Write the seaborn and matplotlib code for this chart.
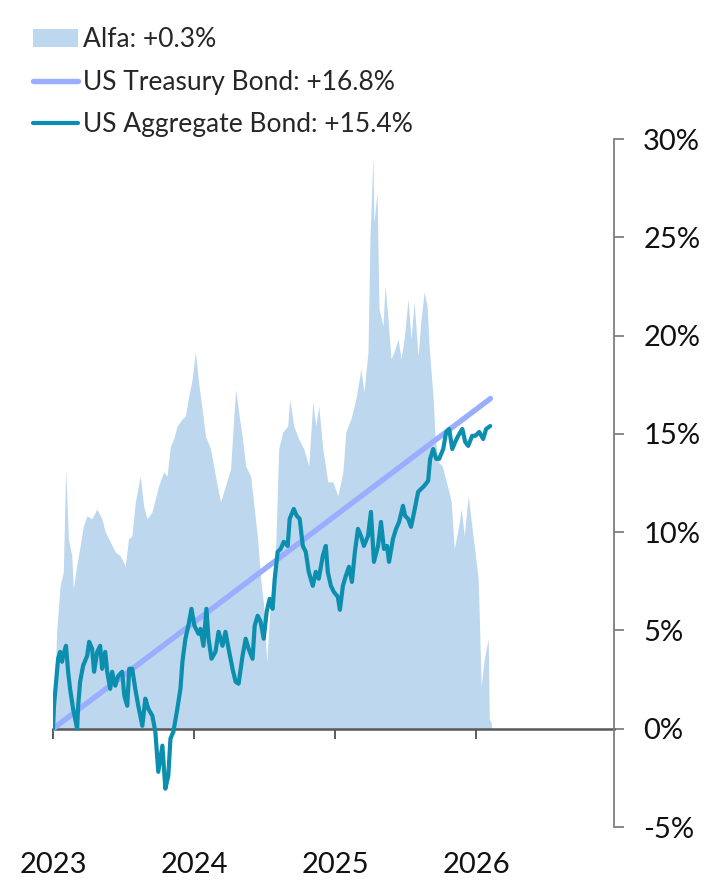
import matplotlib
matplotlib.use("Agg")
import matplotlib.pyplot as plt
import seaborn as sns
import pandas as pd
from matplotlib.patches import Patch
from matplotlib.lines import Line2D

# Alfa (area), cumulative return in %, x in decimal years
alfa_year = [2023.000, 2023.026, 2023.050, 2023.073, 2023.090, 2023.109, 2023.133, 2023.144, 2023.168,
             2023.192, 2023.215, 2023.240, 2023.275, 2023.311, 2023.346, 2023.370, 2023.405, 2023.441,
             2023.476, 2023.512, 2023.535, 2023.559, 2023.583, 2023.618, 2023.642, 2023.666, 2023.701,
             2023.725, 2023.748, 2023.784, 2023.808, 2023.832, 2023.855, 2023.879, 2023.915, 2023.938,
             2023.962, 2023.986, 2024.009, 2024.033, 2024.059, 2024.080, 2024.116, 2024.151, 2024.187,
             2024.222, 2024.258, 2024.294, 2024.315, 2024.343, 2024.365, 2024.400, 2024.421, 2024.450,
             2024.471, 2024.493, 2024.514, 2024.542, 2024.578, 2024.599, 2024.628, 2024.663, 2024.677,
             2024.706, 2024.741, 2024.777, 2024.812, 2024.841, 2024.862, 2024.883, 2024.912, 2024.947,
             2024.983, 2025.018, 2025.054, 2025.075, 2025.111, 2025.146, 2025.182, 2025.203, 2025.232,
             2025.246, 2025.267, 2025.274, 2025.296, 2025.310, 2025.338, 2025.353, 2025.374, 2025.395,
             2025.416, 2025.445, 2025.466, 2025.488, 2025.516, 2025.537, 2025.559, 2025.587, 2025.608,
             2025.630, 2025.651, 2025.665, 2025.694, 2025.708, 2025.729, 2025.758, 2025.800, 2025.822,
             2025.843, 2025.871, 2025.893, 2025.914, 2025.942, 2025.964, 2025.985, 2026.013, 2026.034,
             2026.056, 2026.084, 2026.091, 2026.106]
alfa_pct = [0.0, 4.93, 7.27, 7.98, 13.22, 9.66, 8.80, 7.12, 8.29,
            9.30, 10.32, 10.83, 10.68, 11.18, 10.68, 10.02, 9.51, 9.00,
            8.80, 8.29, 9.66, 9.81, 11.54, 12.86, 11.34, 10.68, 11.03,
            11.69, 12.35, 13.07, 12.86, 14.39, 14.74, 15.40, 15.76, 15.91,
            16.93, 17.79, 19.17, 17.54, 16.12, 14.90, 14.23, 12.86, 11.54,
            12.35, 13.22, 17.29, 16.12, 14.74, 13.37, 12.86, 11.54, 9.66,
            7.63, 6.25, 3.41, 6.61, 9.30, 14.23, 15.10, 15.40, 16.78,
            15.40, 14.74, 14.23, 13.37, 16.62, 15.40, 16.42, 14.23, 12.56,
            12.56, 11.85, 13.07, 15.10, 15.76, 16.78, 18.30, 17.13, 19.17,
            25.06, 29.13, 25.77, 27.30, 21.36, 20.49, 22.53, 20.84, 18.81,
            19.17, 19.83, 18.81, 19.83, 21.86, 19.83, 21.71, 18.96, 20.84,
            22.22, 21.50, 19.47, 16.78, 14.74, 13.57, 13.37, 12.20, 11.54,
            9.15, 10.17, 11.18, 9.81, 11.85, 10.52, 9.30, 7.63, 2.19,
            3.56, 4.58, 0.51, 0.30]

# US Treasury Bond (straight line)
tsy_year = [2023.000, 2026.100]
tsy_pct = [0.0, 16.8]

# US Aggregate Bond
agg_year = [2023.000, 2023.007, 2023.028, 2023.036, 2023.050, 2023.064, 2023.071, 2023.092, 2023.107,
            2023.121, 2023.142, 2023.171, 2023.178, 2023.192, 2023.213, 2023.242, 2023.256, 2023.277,
            2023.291, 2023.313, 2023.334, 2023.348, 2023.370, 2023.384, 2023.405, 2023.419, 2023.441,
            2023.462, 2023.490, 2023.505, 2023.526, 2023.540, 2023.561, 2023.583, 2023.604, 2023.633,
            2023.654, 2023.675, 2023.704, 2023.725, 2023.746, 2023.775, 2023.796, 2023.817, 2023.832,
            2023.853, 2023.881, 2023.903, 2023.917, 2023.938, 2023.959, 2023.981, 2024.002, 2024.031,
            2024.045, 2024.066, 2024.087, 2024.102, 2024.123, 2024.151, 2024.173, 2024.201, 2024.222,
            2024.244, 2024.272, 2024.294, 2024.315, 2024.343, 2024.365, 2024.386, 2024.414, 2024.429,
            2024.450, 2024.471, 2024.493, 2024.514, 2024.535, 2024.556, 2024.571, 2024.592, 2024.613,
            2024.635, 2024.663, 2024.677, 2024.706, 2024.727, 2024.748, 2024.770, 2024.791, 2024.812,
            2024.841, 2024.862, 2024.883, 2024.912, 2024.933, 2024.947, 2024.969, 2024.990, 2025.018,
            2025.033, 2025.054, 2025.075, 2025.097, 2025.118, 2025.139, 2025.161, 2025.182, 2025.203,
            2025.232, 2025.253, 2025.274, 2025.303, 2025.324, 2025.345, 2025.367, 2025.381, 2025.409,
            2025.431, 2025.452, 2025.480, 2025.495, 2025.516, 2025.537, 2025.559, 2025.587, 2025.608,
            2025.630, 2025.658, 2025.672, 2025.694, 2025.715, 2025.736, 2025.765, 2025.786, 2025.807,
            2025.829, 2025.850, 2025.871, 2025.900, 2025.921, 2025.942, 2025.970, 2025.992, 2026.020,
            2026.048, 2026.069, 2026.098]
agg_pct = [0.0, 1.17, 2.90, 3.56, 3.91, 3.41, 3.71, 4.22, 2.90,
           2.03, 1.02, 0.00, 1.17, 2.39, 3.20, 3.71, 4.42, 4.07,
           2.90, 3.91, 4.22, 3.05, 3.91, 2.90, 2.03, 2.90, 2.19,
           2.69, 2.90, 1.68, 1.17, 3.05, 3.05, 2.03, 1.17, 0.15,
           1.53, 1.02, 0.66, -0.15, -2.19, -0.86, -3.05, -2.39, -0.51,
           -0.15, 1.02, 2.03, 3.41, 4.58, 5.24, 6.10, 5.24, 4.83,
           5.08, 4.22, 6.10, 4.58, 3.56, 3.91, 4.93, 4.22, 4.93,
           4.07, 3.05, 2.39, 2.29, 3.71, 4.58, 4.07, 3.56, 5.24,
           5.75, 5.44, 4.58, 5.95, 6.61, 6.10, 7.63, 9.00, 9.15,
           9.51, 9.30, 10.68, 11.18, 10.83, 10.68, 9.30, 9.00, 7.98,
           7.27, 7.98, 7.63, 8.80, 9.30, 7.98, 7.27, 6.96, 6.71,
           6.05, 7.27, 7.78, 8.24, 7.47, 9.00, 10.17, 9.81, 9.30,
           9.81, 11.03, 8.49, 9.30, 10.52, 9.15, 9.30, 8.49, 9.66,
           10.17, 10.52, 11.34, 10.83, 10.68, 10.27, 11.03, 12.05, 12.20,
           12.35, 12.61, 13.73, 14.23, 13.73, 13.73, 14.23, 15.10, 15.25,
           14.23, 14.59, 14.90, 15.25, 14.59, 14.39, 14.90, 14.90, 15.10,
           14.74, 15.25, 15.40]

year_ticks = [2023, 2024, 2025, 2026]
pct_ticks = [-5, 0, 5, 10, 15, 20, 25, 30]

labels = ["Alfa: +0.3%", "US Treasury Bond: +16.8%", "US Aggregate Bond: +15.4%"]
c_alfa = "#BDD7EE"
c_tsy = "#99AEFF"
c_agg = "#0C8EAE"

sns.set_theme(style="white")
plt.rcParams["font.family"] = ["Lato", "DejaVu Sans"]

alfa = pd.DataFrame({"year": alfa_year, "pct": alfa_pct})
tsy = pd.DataFrame({"year": tsy_year, "pct": tsy_pct})
agg = pd.DataFrame({"year": agg_year, "pct": agg_pct})

fig = plt.figure(figsize=(7.05, 8.85), dpi=100)
ax = fig.add_axes([0.0752, 0.0655, 0.7957, 0.7774])

ax.fill_between(alfa["year"], 0, alfa["pct"], color=c_alfa, linewidth=0, zorder=1)
sns.lineplot(data=tsy, x="year", y="pct", ax=ax, color=c_tsy, linewidth=3.9,
             solid_capstyle="round", estimator=None, zorder=3)
sns.lineplot(data=agg, x="year", y="pct", ax=ax, color=c_agg, linewidth=3.0,
             estimator=None, zorder=4)

ax.set_xlim(2023.0, 2026.975)
ax.set_ylim(-5, 30)
ax.set_xlabel("")
ax.set_ylabel("")

for s in ["left", "top"]:
    ax.spines[s].set_visible(False)
ax.spines["bottom"].set_position(("data", 0))
ax.spines["bottom"].set_color("#595959")
ax.spines["bottom"].set_linewidth(1.8)
ax.spines["bottom"].set_zorder(2)
ax.spines["right"].set_color("#7F7F7F")
ax.spines["right"].set_linewidth(1.3)

ax.set_xticks(year_ticks)
ax.set_xticklabels([str(y) for y in year_ticks])
ax.tick_params(axis="x", bottom=True, direction="out", length=7, width=1.2,
               color="#404040", pad=82, labelsize=21, labelcolor="#111111")

ax.yaxis.tick_right()
ax.set_yticks(pct_ticks)
ax.set_yticklabels([f"{p}%" for p in pct_ticks])
ax.tick_params(axis="y", right=True, direction="out", length=7, width=1.3,
               color="#7F7F7F", pad=14, labelsize=21, labelcolor="#111111")

handles = [Patch(facecolor=c_alfa, edgecolor="none"),
           Line2D([0], [0], color=c_tsy, linewidth=3.9, solid_capstyle="round"),
           Line2D([0], [0], color=c_agg, linewidth=3.0)]
fig.legend(handles, labels, loc="upper left", bbox_to_anchor=(0.032, 0.981),
           frameon=False, fontsize=19, handlelength=1.7, handleheight=0.7,
           handletextpad=0.2, labelspacing=0.66, borderaxespad=0)

fig.savefig("out.png", dpi=100)
